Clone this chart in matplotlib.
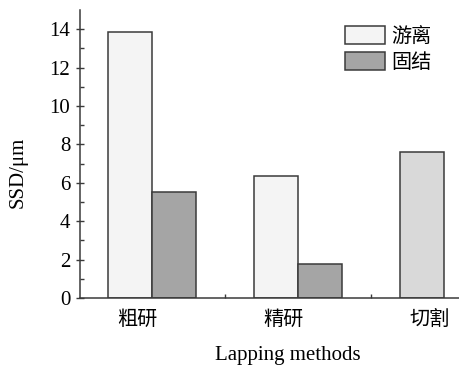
import matplotlib
matplotlib.use("Agg")
import matplotlib.pyplot as plt
import numpy as np
from matplotlib.patches import Patch

# data
methods = ["粗研", "精研", "切割"]
free_ssd = [13.85, 6.35]      # 游离
fixed_ssd = [5.5, 1.75]       # 固结
cut_ssd = [7.6]               # 切割
series_names = ["游离", "固结"]
y_ticks = [0, 2, 4, 6, 8, 10, 12, 14]

serif = ["Liberation Serif", "DejaVu Serif"]
cjk = ["Noto Sans CJK SC", "DejaVu Sans"]
plt.rcParams["font.family"] = serif
plt.rcParams["mathtext.fontset"] = "stix"

fig = plt.figure(figsize=(4.6, 3.67), dpi=100)
ax = fig.add_axes([80 / 460, 1 - 298 / 367, 380 / 460, 288 / 367])

edge = "#3a3a3a"
w = 0.30
x = np.arange(len(methods))
ax.bar(x[:2] - w / 2, free_ssd, w, color="#f4f4f4", edgecolor=edge, linewidth=1.1)
ax.bar(x[:2] + w / 2, fixed_ssd, w, color="#a5a5a5", edgecolor=edge, linewidth=1.1)
ax.bar(x[2:] - w / 2, cut_ssd, w, color="#d9d9d9", edgecolor=edge, linewidth=1.1)

ax.set_xlim(-0.493, 2.11)
ax.set_ylim(0, 15)

for s in ["top", "right"]:
    ax.spines[s].set_visible(False)
for s in ["left", "bottom"]:
    ax.spines[s].set_color(edge)
    ax.spines[s].set_linewidth(1.1)

ax.set_yticks(y_ticks)
ax.set_yticks(np.arange(1, 15, 2), minor=True)
ax.tick_params(axis="y", which="major", direction="inout", length=6, width=1,
               color=edge, labelsize=15, pad=4)
ax.tick_params(axis="y", which="minor", direction="in", length=3, width=1, color=edge)

ax.set_xticks(x - 0.1)
ax.set_xticklabels(methods, fontfamily=cjk, fontsize=14.5)
ax.set_xticks(x[:2] + 0.5, minor=True)
ax.tick_params(axis="x", which="major", length=0, pad=8)
ax.tick_params(axis="x", which="minor", direction="in", length=3, width=1, color=edge)

ax.set_xlabel("Lapping methods", fontsize=15)
ax.xaxis.set_label_coords((288 - 80) / 380, -0.165)
ax.set_ylabel("SSD/μm", fontsize=15)
ax.yaxis.set_label_coords(-(80 - 28) / 380, (298 - 172) / 288)

handles = [Patch(facecolor="#f4f4f4", edgecolor=edge, linewidth=1.1),
           Patch(facecolor="#a5a5a5", edgecolor=edge, linewidth=1.1)]
ax.legend(handles, series_names, loc="upper left",
          bbox_to_anchor=((345 - 80) / 380, (298 - 26) / 288),
          frameon=False, borderpad=0, borderaxespad=0,
          handlelength=2.0, handleheight=0.95, handletextpad=0.3,
          labelspacing=0.25, prop={"family": cjk, "size": 14.5})

fig.savefig("out.png", dpi=100)
